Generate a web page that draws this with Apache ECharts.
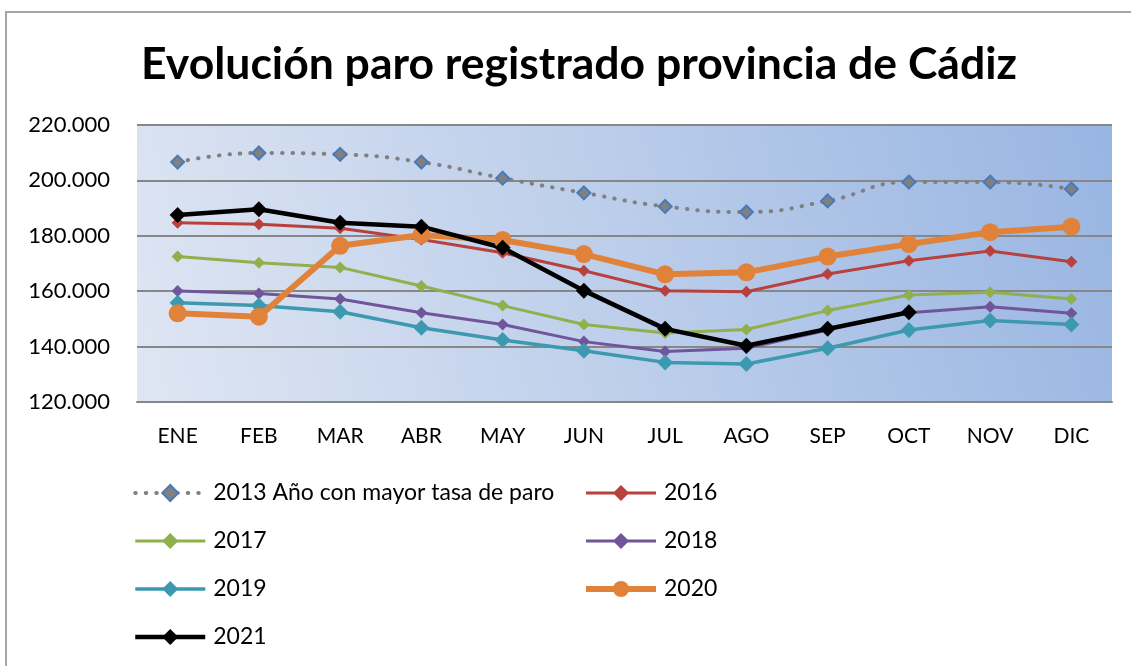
<!DOCTYPE html>
<html>
<head>
<meta charset="utf-8">
<script src="https://cdn.jsdelivr.net/npm/echarts@6/dist/echarts.min.js"></script>
<style>
  html, body { margin: 0; padding: 0; background: #fff; }
  #chart { width: 1131px; height: 666px; }
</style>
</head>
<body>
<div id="chart"></div>
<script>
const months = ['ENE', 'FEB', 'MAR', 'ABR', 'MAY', 'JUN', 'JUL', 'AGO', 'SEP', 'OCT', 'NOV', 'DIC'];
const yTicks = [120000, 140000, 160000, 180000, 200000, 220000];

const paro2013 = [206600, 209900, 209400, 206600, 200800, 195500, 190600, 188600, 192600, 199400, 199400, 196900];
const paro2016 = [184700, 184200, 182700, 178700, 173900, 167400, 160200, 159800, 166200, 171000, 174500, 170600];
const paro2017 = [172500, 170300, 168600, 161900, 154800, 148000, 144900, 146200, 153000, 158600, 159600, 157200];
const paro2018 = [160100, 159200, 157200, 152200, 148000, 141800, 138200, 139400, 146000, 152200, 154400, 152000];
const paro2019 = [155800, 154800, 152600, 146800, 142400, 138500, 134300, 133700, 139400, 146000, 149400, 148000];
const paro2020 = [152000, 150800, 176400, 180300, 178500, 173400, 166100, 166800, 172500, 177000, 181300, 183300];
const paro2021 = [187500, 189600, 184700, 183300, 175700, 160200, 146400, 140300, 146400, 152400, null, null];

const FONT = 'Lato';

const fmt = (v) => String(v).replace(/\B(?=(\d{3})+(?!\d))/g, '.');

const chart = echarts.init(document.getElementById('chart'));

const diamondLine = (name, data, color, width, size) => ({
  name,
  type: 'line',
  data,
  symbol: 'diamond',
  symbolSize: size,
  lineStyle: { color, width },
  itemStyle: { color, borderWidth: 0 },
});

const legendBase = {
  orient: 'vertical',
  top: 481,
  padding: 0,
  itemWidth: 70,
  itemHeight: 20,
  itemGap: 24,
  lineStyle: { width: 'inherit' },
  textStyle: { fontFamily: FONT, fontSize: 23, color: '#000', lineHeight: 24, padding: [0, 0, 0, 3] },
};

const option = {
  backgroundColor: '#fff',
  animation: false,
  title: {
    text: 'Evolución paro registrado provincia de Cádiz',
    left: 574,
    top: 37,
    textAlign: 'center',
    textStyle: { fontFamily: FONT, fontWeight: 'bold', fontSize: 44.5, color: '#000' },
  },
  graphic: [
    {
      type: 'rect',
      shape: { x: 6, y: 12, width: 1200, height: 700 },
      style: { fill: 'none', stroke: '#a6a6a6', lineWidth: 2 },
      silent: true,
    },
  ],
  grid: {
    left: 137,
    right: 19,
    top: 125,
    bottom: 264,
    show: true,
    borderWidth: 0,
    backgroundColor: {
      type: 'linear',
      x: 0, y: 1, x2: 1, y2: 0,
      colorStops: [
        { offset: 0, color: '#dfe6f3' },
        { offset: 1, color: '#98b5e2' },
      ],
    },
  },
  legend: [
    Object.assign({}, legendBase, {
      left: 133,
      data: ['2013 Año con mayor tasa de paro', '2017', '2019', '2021'],
    }),
    Object.assign({}, legendBase, {
      left: 583,
      data: ['2016', '2018', '2020'],
    }),
  ],
  xAxis: {
    type: 'category',
    data: months,
    boundaryGap: true,
    axisLine: { lineStyle: { color: '#878787', width: 2 } },
    axisTick: { show: false },
    axisLabel: { fontFamily: FONT, fontSize: 21, color: '#000', margin: 24 },
  },
  yAxis: {
    type: 'value',
    min: yTicks[0],
    max: yTicks[yTicks.length - 1],
    interval: 20000,
    axisLine: { show: false },
    axisTick: { show: false },
    splitLine: { lineStyle: { color: '#878787', width: 2 } },
    axisLabel: { fontFamily: FONT, fontSize: 22, color: '#000', margin: 27, formatter: fmt },
  },
  series: [
    {
      name: '2013 Año con mayor tasa de paro',
      type: 'line',
      data: paro2013,
      smooth: 0.5,
      symbol: 'diamond',
      symbolSize: 13,
      lineStyle: { color: '#808080', width: 4, type: [0.5, 10], cap: 'round' },
      itemStyle: { color: '#808080', borderColor: '#4a7ab8', borderWidth: 2 },
    },
    diamondLine('2016', paro2016, '#b8413d', 3, 12),
    diamondLine('2017', paro2017, '#8fb04a', 3, 12),
    diamondLine('2018', paro2018, '#70559a', 3, 12),
    diamondLine('2019', paro2019, '#3d99b0', 3.5, 16),
    {
      name: '2020',
      type: 'line',
      data: paro2020,
      symbol: 'circle',
      symbolSize: 18,
      lineStyle: { color: '#e0823a', width: 6 },
      itemStyle: { color: '#e0823a', borderWidth: 0 },
    },
    diamondLine('2021', paro2021, '#000000', 4.5, 16),
  ],
};

chart.setOption(option);
</script>
</body>
</html>
